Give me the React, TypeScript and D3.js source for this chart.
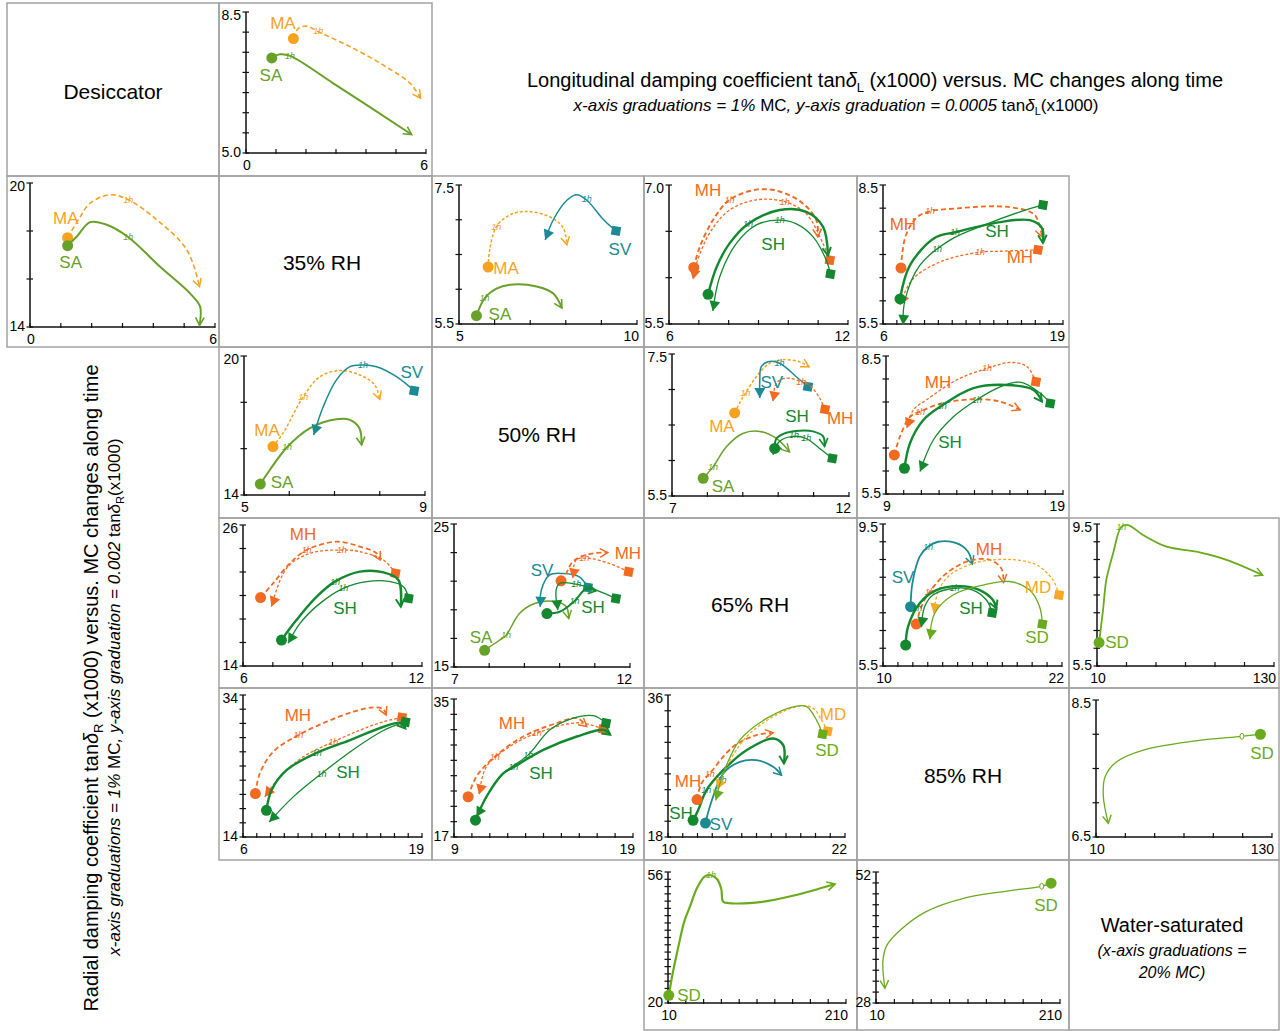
import React from 'react';
import * as d3 from 'd3';

type Pt = [number, number];
type Curve = { k: string; st: 'c' | 's'; w: number; d?: boolean; pts: Pt[]; h?: Pt; ho?: boolean };
type Lab = [string, number, number];

const COLORS: Record<string, string> = {
  MA: '#F7A21E', SA: '#68A12A', SV: '#1B8A93', MH: '#F26A22', SH: '#13882F', MD: '#F9A825', SD: '#6AAB1E',
};
const FONT = "'Liberation Sans Narrow','Arial Narrow','Liberation Sans',Arial,sans-serif";

// ---------- data (MC %, tan delta x1000) ----------
const desL: Curve[] = [
  { k: 'MA', st: 'c', w: 1.6, d: true, pts: [[1.58, 7.84], [1.74, 8.09], [2.02, 8.15], [2.41, 8.01], [3.47, 7.64], [4.58, 7.18], [5.47, 6.73], [5.82, 6.36]], h: [2.41, 8.02] },
  { k: 'SA', st: 'c', w: 2, pts: [[0.86, 7.36], [1.13, 7.45], [1.47, 7.41], [2.91, 6.73], [5.52, 5.46]], h: [1.47, 7.41] },
];
const desLLab: Lab[] = [['MA', 1.23, 8.23], ['SA', 0.83, 6.94]];

const desR: Curve[] = [
  { k: 'MA', st: 'c', w: 1.6, d: true, pts: [[1.22, 17.72], [1.57, 18.47], [1.95, 19.16], [2.6, 19.51], [3.19, 19.3], [4.11, 18.47], [5.09, 17.21], [5.5, 15.68]], h: [3.19, 19.3] },
  { k: 'SA', st: 'c', w: 2, pts: [[1.22, 17.39], [1.52, 17.77], [1.95, 18.37], [2.49, 18.26], [3.19, 17.74], [4.22, 16.51], [5.19, 15.4], [5.52, 14.84], [5.5, 14.07]], h: [3.19, 17.74] },
];
const desRLab: Lab[] = [['MA', 1.16, 18.53], ['SA', 1.32, 16.72]];

const l35_50: Curve[] = [
  { k: 'MA', st: 'c', w: 1.5, d: true, pts: [[5.82, 6.32], [5.86, 6.56], [6.05, 6.9], [6.43, 7.07], [6.9, 7.12], [7.56, 7.04], [7.93, 6.88], [8.03, 6.64]], h: [6.05, 6.9] },
  { k: 'SA', st: 'c', w: 2, pts: [[5.49, 5.62], [5.72, 5.87], [6.05, 6.01], [6.52, 6.07], [7.18, 6.04], [7.65, 5.94], [7.89, 5.73]], h: [5.72, 5.87] },
  { k: 'SV', st: 's', w: 1.5, pts: [[9.41, 6.84], [9.06, 7.0], [8.59, 7.28], [8.31, 7.36], [8.03, 7.28], [7.65, 7.0], [7.42, 6.71]], h: [8.59, 7.3] },
];
const l35_50Lab: Lab[] = [['MA', 6.32, 6.31], ['SA', 6.15, 5.64], ['SV', 9.52, 6.58]];

const l35_65: Curve[] = [
  { k: 'MH', st: 'c', w: 2, d: true, pts: [[6.83, 6.11], [7.03, 6.33], [7.47, 6.62], [8.03, 6.84], [8.93, 6.95], [9.71, 6.93], [10.49, 6.8], [10.94, 6.62], [10.99, 6.44]], h: [8.03, 6.84] },
  { k: 'MH', st: 's', w: 1.3, d: true, pts: [[11.39, 6.19], [11.16, 6.37], [10.6, 6.69], [9.88, 6.82], [8.93, 6.84], [8.03, 6.73], [7.36, 6.48], [6.92, 6.15], [6.8, 5.98]], h: [9.88, 6.82] },
  { k: 'SH', st: 'c', w: 2.4, pts: [[7.31, 5.82], [7.59, 6.11], [8.03, 6.37], [8.65, 6.58], [9.71, 6.73], [10.6, 6.71], [11.16, 6.55], [11.33, 6.24]], h: [8.65, 6.58] },
  { k: 'SH', st: 's', w: 1.3, pts: [[11.41, 6.04], [11.27, 6.19], [10.83, 6.44], [10.27, 6.58], [9.71, 6.62], [8.93, 6.57], [8.26, 6.37], [7.7, 6.01], [7.47, 5.64]], h: [9.71, 6.62] },
];
const l35_65Lab: Lab[] = [['MH', 7.31, 6.95], ['SH', 9.49, 6.36]];

const l35_85: Curve[] = [
  { k: 'MH', st: 'c', w: 1.8, d: true, pts: [[7.3, 6.71], [7.66, 7.42], [8.67, 7.85], [11.56, 8.0], [15.17, 8.02], [16.97, 7.85], [17.48, 7.38]], h: [9.4, 7.93] },
  { k: 'MH', st: 's', w: 1.3, d: true, pts: [[17.19, 7.1], [14.45, 7.07], [13.0, 7.05], [10.12, 6.84], [8.09, 6.45], [7.23, 5.91]], h: [13.0, 7.05] },
  { k: 'SH', st: 'c', w: 2.4, pts: [[7.23, 6.04], [7.95, 6.77], [9.75, 7.36], [11.2, 7.48], [14.45, 7.7], [16.61, 7.74], [17.48, 7.57], [17.55, 7.25]], h: [11.2, 7.48] },
  { k: 'SH', st: 's', w: 1.3, pts: [[17.55, 8.07], [15.89, 7.92], [13.36, 7.64], [10.84, 7.31], [8.67, 6.77], [7.59, 6.02], [7.44, 5.48]], h: [9.9, 7.12] },
];
const l35_85Lab: Lab[] = [['MH', 7.44, 7.66], ['SH', 14.23, 7.51], ['MH', 15.89, 6.95]];

const r35_50: Curve[] = [
  { k: 'MA', st: 'c', w: 1.5, d: true, pts: [[5.64, 16.09], [5.86, 16.66], [6.31, 18.24], [6.68, 19.11], [7.12, 19.37], [7.56, 19.18], [7.89, 18.75], [8.0, 18.13]], h: [6.31, 18.24] },
  { k: 'SA', st: 'c', w: 2, pts: [[5.36, 14.47], [5.57, 15.08], [5.95, 16.06], [6.45, 16.88], [7.04, 17.27], [7.34, 17.24], [7.55, 16.88], [7.6, 16.16]], h: [5.95, 16.06] },
  { k: 'SV', st: 's', w: 1.5, pts: [[8.76, 18.5], [8.37, 19.11], [7.93, 19.54], [7.63, 19.61], [7.34, 19.54], [7.04, 18.96], [6.75, 17.81], [6.54, 16.59]], h: [7.63, 19.61] },
];
const r35_50Lab: Lab[] = [['MA', 5.51, 16.81], ['SA', 5.84, 14.56], ['SV', 8.71, 19.31]];

const l50_65: Curve[] = [
  { k: 'MA', st: 'c', w: 1.5, d: true, pts: [[8.77, 6.67], [8.91, 6.81], [9.08, 6.95], [9.38, 7.18], [9.76, 7.37], [10.14, 7.42], [10.61, 7.39], [10.87, 7.32]], h: [9.08, 6.95] },
  { k: 'SV', st: 's', w: 1.5, pts: [[10.84, 7.04], [10.51, 7.18], [10.04, 7.37], [9.71, 7.39], [9.52, 7.32], [9.48, 7.13], [9.48, 6.88]], h: [10.04, 7.37] },
  { k: 'MH', st: 's', w: 1.3, d: true, pts: [[11.32, 6.72], [11.17, 6.88], [10.89, 7.06], [10.65, 7.11], [10.23, 7.16], [9.95, 7.09], [9.85, 6.83]], h: [10.65, 7.11] },
  { k: 'SA', st: 'c', w: 1.5, pts: [[7.88, 5.75], [8.16, 5.91], [8.53, 6.19], [9.0, 6.38], [9.48, 6.41], [9.95, 6.31], [10.32, 6.12]], h: [8.16, 5.91] },
  { k: 'SH', st: 'c', w: 2, pts: [[9.9, 6.17], [9.95, 6.31], [10.23, 6.39], [10.61, 6.42], [10.98, 6.41], [11.27, 6.34], [11.31, 6.2]], h: [10.45, 6.36] },
  { k: 'SH', st: 's', w: 1.3, pts: [[11.53, 6.03], [11.17, 6.17], [10.79, 6.31], [10.42, 6.34], [10.04, 6.27], [9.85, 6.08]], h: [10.79, 6.31] },
];
const l50_65Lab: Lab[] = [['MA', 8.41, 6.49], ['SV', 9.82, 7.11], ['SH', 10.53, 6.62], ['MH', 11.75, 6.6], ['SA', 8.44, 5.64]];

const l50_85: Curve[] = [
  { k: 'MH', st: 's', w: 1.3, d: true, pts: [[17.47, 7.94], [16.96, 8.27], [16.02, 8.36], [14.7, 8.23], [13.0, 7.98], [11.3, 7.55], [10.55, 7.33], [10.17, 6.93]], h: [14.7, 8.23] },
  { k: 'MH', st: 'c', w: 1.8, d: true, pts: [[9.47, 6.35], [9.79, 6.75], [10.36, 7.18], [10.92, 7.29], [12.06, 7.46], [13.94, 7.56], [15.45, 7.51], [16.58, 7.33]], h: [10.92, 7.29] },
  { k: 'SH', st: 'c', w: 2.4, pts: [[10.04, 6.06], [10.36, 6.61], [11.11, 7.11], [12.15, 7.42], [13.94, 7.8], [15.83, 7.87], [17.34, 7.76], [17.81, 7.51]], h: [12.15, 7.42] },
  { k: 'SH', st: 's', w: 1.3, pts: [[18.28, 7.47], [17.72, 7.69], [16.58, 7.93], [15.45, 7.83], [14.13, 7.55], [12.81, 7.18], [11.68, 6.68], [10.92, 5.99]], h: [14.13, 7.55] },
];
const l50_85Lab: Lab[] = [['MH', 11.94, 7.93], ['SH', 12.62, 6.63]];

const r35_65: Curve[] = [
  { k: 'MH', st: 'c', w: 1.8, d: true, pts: [[6.59, 19.82], [7.01, 21.04], [7.57, 22.74], [8.13, 23.87], [9.14, 24.58], [9.92, 24.16], [10.48, 23.59], [10.6, 23.02]], h: [8.13, 23.87] },
  { k: 'MH', st: 's', w: 1.3, d: true, pts: [[11.11, 21.89], [10.71, 23.02], [9.92, 23.73], [9.31, 23.87], [8.24, 23.59], [7.46, 22.31], [6.95, 19.05]], h: [9.31, 23.87] },
  { k: 'SH', st: 'c', w: 2.4, pts: [[7.29, 16.21], [7.79, 17.91], [8.47, 19.9], [9.08, 21.18], [9.92, 22.03], [10.71, 21.97], [11.21, 21.32], [11.29, 19.05]], h: [9.08, 21.18] },
  { k: 'SH', st: 's', w: 1.3, pts: [[11.55, 19.76], [11.38, 20.75], [10.93, 21.18], [10.15, 21.18], [9.36, 20.61], [8.58, 19.33], [7.91, 17.63], [7.51, 15.93]], h: [9.36, 20.61] },
];
const r35_65Lab: Lab[] = [['MH', 8.01, 25.23], ['SH', 9.42, 18.94]];

const r50_65: Curve[] = [
  { k: 'SA', st: 'c', w: 1.5, pts: [[7.87, 16.17], [8.29, 16.87], [8.48, 17.22], [8.86, 18.74], [9.29, 19.44], [9.9, 19.56], [10.19, 19.21], [10.26, 18.39]], h: [8.48, 17.22] },
  { k: 'SV', st: 's', w: 1.5, pts: [[10.8, 20.56], [10.56, 21.31], [10.09, 21.54], [9.71, 21.43], [9.48, 20.37], [9.45, 19.21]] },
  { k: 'MH', st: 'c', w: 1.8, d: true, pts: [[10.04, 21.03], [10.2, 21.6], [10.35, 22.3], [10.6, 22.7], [10.95, 22.95], [11.37, 23.0]], h: [10.7, 22.6] },
  { k: 'MH', st: 's', w: 1.3, d: true, pts: [[11.96, 21.66], [11.41, 22.24], [10.85, 22.59], [10.47, 22.48], [10.37, 21.19]] },
  { k: 'SH', st: 'c', w: 2, pts: [[9.64, 18.74], [10.0, 18.86], [10.42, 19.6], [10.75, 20.45], [11.04, 20.33]], h: [10.42, 19.6] },
  { k: 'SH', st: 's', w: 1.3, pts: [[11.6, 19.79], [11.04, 20.37], [10.47, 20.79], [10.0, 20.84], [9.9, 20.37], [9.95, 18.97]], h: [10.47, 20.79] },
];
const r50_65Lab: Lab[] = [['SV', 9.5, 21.78], ['MH', 11.94, 22.97], ['SH', 10.95, 19.2], ['SA', 7.77, 17.1]];

const l65_85: Curve[] = [
  { k: 'SV', st: 'c', w: 1.8, pts: [[11.85, 7.17], [11.97, 7.83], [12.46, 8.58], [13.02, 8.86], [13.69, 9.0], [14.92, 8.96], [15.7, 8.72], [15.99, 8.37]], h: [13.02, 8.86] },
  { k: 'MH', st: 'c', w: 1.8, d: true, pts: [[12.23, 6.68], [12.57, 7.17], [13.13, 7.59], [14.25, 8.11], [15.81, 8.47], [17.15, 8.49], [17.93, 8.25], [18.09, 7.85]], h: [13.13, 7.59] },
  { k: 'MD', st: 's', w: 1.3, d: true, pts: [[21.8, 7.5], [21.4, 7.92], [20.28, 8.35], [18.49, 8.5], [16.26, 8.41], [14.47, 8.06], [13.69, 7.59], [13.4, 6.98]] },
  { k: 'SH', st: 'c', w: 2.4, pts: [[11.52, 6.09], [11.68, 6.61], [12.46, 7.27], [13.58, 7.64], [15.14, 7.75], [16.48, 7.64], [17.37, 7.36], [17.6, 7.12]], h: [12.3, 7.12] },
  { k: 'SH', st: 's', w: 1.3, pts: [[17.33, 7.0], [16.93, 7.36], [16.03, 7.64], [14.8, 7.69], [13.35, 7.5], [12.79, 7.17], [12.57, 6.59]], h: [14.8, 7.69] },
  { k: 'SD', st: 's', w: 1.3, pts: [[20.68, 6.68], [20.5, 7.17], [19.83, 7.64], [18.49, 7.88], [16.7, 7.78], [14.69, 7.5], [13.46, 6.98], [13.13, 6.25]] },
];
const l65_85Lab: Lab[] = [['SV', 11.34, 8.01], ['MH', 17.11, 8.8], ['MD', 20.39, 7.73], ['SH', 15.9, 7.13], ['SD', 20.32, 6.32]];

const l65_ws: Curve[] = [
  { k: 'SD', st: 'c', w: 1.8, pts: [[11.4, 6.16], [14.1, 7.08], [16.3, 7.92], [20.9, 8.67], [26.5, 9.42], [31.1, 9.47], [41.2, 9.19], [57.1, 8.86], [77.5, 8.72], [97.8, 8.49], [122.3, 8.06]], h: [26.5, 9.42] },
];
const l65_wsLab: Lab[] = [['SD', 23.6, 6.18]];

const r35_85: Curve[] = [
  { k: 'MH', st: 'c', w: 1.8, d: true, pts: [[6.9, 20.12], [7.22, 22.94], [8.19, 26.0], [10.01, 28.35], [12.08, 30.24], [14.02, 31.65], [15.48, 32.26], [16.21, 31.98], [16.4, 31.18]], h: [10.01, 28.35] },
  { k: 'MH', st: 's', w: 1.3, d: true, pts: [[17.54, 30.85], [16.21, 30.24], [14.51, 29.06], [12.56, 27.41], [10.37, 25.29], [8.67, 22.47], [7.58, 19.65]], h: [12.56, 27.41] },
  { k: 'SH', st: 'c', w: 2.4, pts: [[7.7, 17.76], [8.07, 20.59], [9.16, 23.41], [11.35, 25.86], [13.78, 27.65], [16.21, 29.53], [17.42, 30.09], [17.79, 29.29]], h: [11.35, 25.86] },
  { k: 'SH', st: 's', w: 1.3, pts: [[17.79, 30.2], [16.2, 29.0], [14.0, 26.3], [11.71, 22.94], [9.65, 19.65], [7.9, 16.12]], h: [11.71, 22.94] },
];
const r35_85Lab: Lab[] = [['MH', 9.99, 31.18], ['SH', 13.63, 23.15]];

const r50_85: Curve[] = [
  { k: 'MH', st: 'c', w: 1.8, d: true, pts: [[9.79, 22.25], [10.25, 24.87], [11.28, 27.49], [12.87, 30.11], [14.74, 31.86], [15.86, 32.51], [16.42, 31.42]], h: [11.28, 27.49] },
  { k: 'MH', st: 's', w: 1.3, d: true, pts: [[17.32, 31.07], [16.0, 31.9], [13.62, 30.55], [12.12, 28.8], [10.81, 26.18], [10.4, 22.55]], h: [13.62, 30.55] },
  { k: 'SH', st: 'c', w: 2.4, pts: [[10.2, 19.19], [10.81, 22.25], [11.75, 25.31], [12.31, 26.09], [13.99, 28.36], [15.86, 30.11], [17.36, 30.98], [17.73, 30.33]], h: [12.31, 26.09] },
  { k: 'SH', st: 's', w: 1.3, pts: [[17.49, 31.86], [16.79, 32.82], [15.67, 32.51], [14.36, 30.98], [13.15, 27.71], [11.56, 24.87], [10.25, 19.63]], h: [13.15, 27.71] },
];
const r50_85Lab: Lab[] = [['MH', 12.24, 31.87], ['SH', 13.86, 25.35]];

const r65_85: Curve[] = [
  { k: 'SH', st: 'c', w: 2.4, pts: [[11.7, 20.11], [12.04, 21.38], [12.6, 23.92], [13.74, 26.47], [15.32, 29.0], [17.13, 30.49], [17.81, 29.64], [17.86, 27.31]], h: [12.6, 23.92] },
  { k: 'SV', st: 'c', w: 1.8, pts: [[12.54, 19.77], [12.83, 21.81], [13.74, 26.04], [14.87, 27.53], [16.0, 27.74], [17.13, 26.89], [17.7, 25.83]], h: [13.62, 25.2] },
  { k: 'MH', st: 'c', w: 1.8, d: true, pts: [[11.97, 22.74], [12.26, 24.77], [12.83, 26.04], [14.41, 29.43], [16.0, 30.92], [17.13, 31.21]], h: [12.83, 26.04] },
  { k: 'MD', st: 's', w: 1.3, d: true, pts: [[20.82, 31.42], [20.41, 32.82], [19.85, 34.31], [18.94, 34.6], [17.13, 33.25], [15.32, 30.7], [13.96, 26.89], [13.33, 24.01]] },
  { k: 'SD', st: 's', w: 1.3, pts: [[20.48, 31.04], [20.07, 32.82], [19.4, 34.52], [18.72, 34.6], [16.68, 33.03], [14.87, 30.28], [13.74, 26.04], [13.24, 22.65]] },
];
const r65_85Lab: Lab[] = [['MD', 21.19, 33.59], ['SD', 20.78, 29.03], ['MH', 11.36, 25.1], ['SH', 10.88, 21.04], ['SV', 13.59, 19.65]];

const l85_ws: Curve[] = [
  { k: 'SD', st: 'c', w: 1.3, pts: [[122.1, 8.0], [109.5, 7.97], [76.5, 7.9], [42.3, 7.77], [24.1, 7.6], [16.2, 7.38], [15.0, 7.09], [18.4, 6.7]], h: [109.5, 7.97], ho: true },
];
const l85_wsLab: Lab[] = [['SD', 123.2, 7.73]];

const r65_ws: Curve[] = [
  { k: 'SD', st: 'c', w: 2.2, pts: [[10.9, 22.1], [14.6, 27.3], [21.5, 35.3], [28.4, 42.5], [35.3, 46.9], [42.2, 51.4], [51.4, 54.8], [58.3, 55.1], [65.2, 54.0], [69.8, 51.4], [72.1, 47.8], [81.3, 47.4], [115.7, 47.8], [152.5, 49.6], [197.6, 52.7]], h: [58.3, 55.1] },
];
const r65_wsLab: Lab[] = [['SD', 33.6, 22.2]];

const r85_ws: Curve[] = [
  { k: 'SD', st: 'c', w: 1.3, pts: [[200.3, 49.96], [190.1, 49.38], [152.5, 48.5], [108.2, 47.3], [64, 44.7], [37.4, 41.5], [21.9, 38.6], [17.5, 35.7], [19.7, 30.7]], h: [190.1, 49.38], ho: true },
];
const r85_wsLab: Lab[] = [['SD', 194.8, 45.95]];

// ---------- layout ----------
const COLS = [7, 219, 432, 644, 857, 1069, 1279];
const ROWS = [3, 176, 347, 518, 688, 860, 1030];
const CELLS: [number, number][] = [
  [0, 0], [0, 1],
  [1, 0], [1, 1], [1, 2], [1, 3], [1, 4],
  [2, 1], [2, 2], [2, 3], [2, 4],
  [3, 1], [3, 2], [3, 3], [3, 4], [3, 5],
  [4, 1], [4, 2], [4, 3], [4, 4], [4, 5],
  [5, 3], [5, 4], [5, 5],
];

type Panel = { box: number[]; xd: number[]; xs: number; yd: number[]; ys: number; yl: string[]; xl: string[]; c: Curve[]; lab: Lab[] };
const PANELS: Panel[] = [
  { box: [246, 12, 426, 153], xd: [0, 6], xs: 1, yd: [5, 8.5], ys: 0.5, yl: ['5.0', '8.5'], xl: ['0', '6'], c: desL, lab: desLLab },
  { box: [30, 183, 215, 327], xd: [0, 6], xs: 1, yd: [14, 20], ys: 2, yl: ['14', '20'], xl: ['0', '6'], c: desR, lab: desRLab },
  { box: [459, 185, 637, 324], xd: [5, 10], xs: 1, yd: [5.5, 7.5], ys: 0.5, yl: ['5.5', '7.5'], xl: ['5', '10'], c: l35_50, lab: l35_50Lab },
  { box: [669, 185, 848, 324], xd: [6, 12], xs: 1, yd: [5.5, 7.0], ys: 0.5, yl: ['5.5', '7.0'], xl: ['6', '12'], c: l35_65, lab: l35_65Lab },
  { box: [883, 185, 1063, 324], xd: [6, 19], xs: 1, yd: [5.5, 8.5], ys: 0.5, yl: ['5.5', '8.5'], xl: ['6', '19'], c: l35_85, lab: l35_85Lab },
  { box: [244, 356, 425, 495], xd: [5, 9], xs: 1, yd: [14, 20], ys: 2, yl: ['14', '20'], xl: ['5', '9'], c: r35_50, lab: r35_50Lab },
  { box: [672, 354, 849, 496], xd: [7, 12], xs: 1, yd: [5.5, 7.5], ys: 0.5, yl: ['5.5', '7.5'], xl: ['7', '12'], c: l50_65, lab: l50_65Lab },
  { box: [886, 356, 1063, 494], xd: [9, 19], xs: 1, yd: [5.5, 8.5], ys: 0.5, yl: ['5.5', '8.5'], xl: ['9', '19'], c: l50_85, lab: l50_85Lab },
  { box: [243, 525, 422, 666], xd: [6, 12], xs: 1, yd: [14, 26], ys: 2, yl: ['14', '26'], xl: ['6', '12'], c: r35_65, lab: r35_65Lab },
  { box: [454, 524, 630, 667], xd: [7, 12], xs: 1, yd: [15, 25], ys: 2, yl: ['15', '25'], xl: ['7', '12'], c: r50_65, lab: r50_65Lab },
  { box: [883, 524, 1062, 666], xd: [10, 22], xs: 1, yd: [5.5, 9.5], ys: 0.5, yl: ['5.5', '9.5'], xl: ['10', '22'], c: l65_85, lab: l65_85Lab },
  { box: [1097, 524, 1274, 666], xd: [10, 130], xs: 20, yd: [5.5, 9.5], ys: 0.5, yl: ['5.5', '9.5'], xl: ['10', '130'], c: l65_ws, lab: l65_wsLab },
  { box: [243, 695, 422, 837], xd: [6, 19], xs: 1, yd: [14, 34], ys: 2, yl: ['14', '34'], xl: ['6', '19'], c: r35_85, lab: r35_85Lab },
  { box: [454, 699, 633, 837], xd: [9, 19], xs: 1, yd: [17, 35], ys: 2, yl: ['17', '35'], xl: ['9', '19'], c: r50_85, lab: r50_85Lab },
  { box: [668, 695, 845, 837], xd: [10, 22], xs: 1, yd: [18, 36], ys: 2, yl: ['18', '36'], xl: ['10', '22'], c: r65_85, lab: r65_85Lab },
  { box: [1096, 700, 1272, 837], xd: [10, 130], xs: 20, yd: [6.5, 8.5], ys: 0.5, yl: ['6.5', '8.5'], xl: ['10', '130'], c: l85_ws, lab: l85_wsLab },
  { box: [668, 872, 846, 1003], xd: [10, 210], xs: 20, yd: [20, 56], ys: 2, yl: ['20', '56'], xl: ['10', '210'], c: r65_ws, lab: r65_wsLab },
  { box: [876, 872, 1060, 1003], xd: [10, 210], xs: 20, yd: [28, 52], ys: 2, yl: ['28', '52'], xl: ['10', '210'], c: r85_ws, lab: r85_wsLab },
];

function CurveView({ cv, x, y }: { cv: Curve; x: any; y: any }) {
  const col = COLORS[cv.k];
  const line = d3.line<Pt>().x((d) => x(d[0])).y((d) => y(d[1])).curve(d3.curveCatmullRom.alpha(0.5));
  const n = cv.pts.length;
  const x1 = x(cv.pts[n - 2][0]), y1 = y(cv.pts[n - 2][1]);
  const x2 = x(cv.pts[n - 1][0]), y2 = y(cv.pts[n - 1][1]);
  const a = Math.atan2(y2 - y1, x2 - x1);
  const sx = x(cv.pts[0][0]), sy = y(cv.pts[0][1]);
  let head: React.ReactNode;
  if (cv.st === 's') {
    const L = 10, W = 5.5;
    const bx = x2 - L * Math.cos(a), by = y2 - L * Math.sin(a);
    const p = [
      [x2, y2],
      [bx + W * Math.sin(a), by - W * Math.cos(a)],
      [bx - W * Math.sin(a), by + W * Math.cos(a)],
    ];
    head = <polygon points={p.map((q) => q.join(',')).join(' ')} fill={col} />;
  } else {
    const L = 9, s = 0.5;
    head = (
      <path
        d={`M${x2 - L * Math.cos(a - s)},${y2 - L * Math.sin(a - s)}L${x2},${y2}L${x2 - L * Math.cos(a + s)},${y2 - L * Math.sin(a + s)}`}
        fill="none" stroke={col} strokeWidth={Math.max(1.4, cv.w * 0.8)} strokeLinejoin="miter"
      />
    );
  }
  return (
    <g>
      <path d={line(cv.pts) || ''} fill="none" stroke={col} strokeWidth={cv.w}
        strokeDasharray={cv.d ? (cv.w > 1.5 ? '5,3' : '3,2') : undefined} strokeLinecap="butt" />
      {head}
      {cv.st === 'c'
        ? <circle cx={sx} cy={sy} r={5.5} fill={col} />
        : <rect x={sx - 4.5} y={sy - 4.5} width={9} height={9} fill={col} transform={`rotate(10,${sx},${sy})`} />}
      {cv.h && (cv.ho
        ? <ellipse cx={x(cv.h[0])} cy={y(cv.h[1])} rx={2} ry={3} fill="#fff" stroke={col} strokeWidth={1} />
        : <text x={x(cv.h[0])} y={y(cv.h[1]) + 3} fontSize={9} fontStyle="italic" textAnchor="middle" fill={col} fontFamily={FONT}>1h</text>
      )}
    </g>
  );
}

function PanelView({ p }: { p: Panel }) {
  const [l, t, r, b] = p.box;
  const x = d3.scaleLinear().domain(p.xd).range([l, r]);
  const y = d3.scaleLinear().domain(p.yd).range([b, t]);
  const xt = d3.range(p.xd[0], p.xd[1] + p.xs / 2, p.xs);
  const yt = d3.range(p.yd[0], p.yd[1] + p.ys / 2, p.ys);
  return (
    <g>
      <line x1={l} x2={r} y1={b} y2={b} stroke="#111" strokeWidth={1.5} />
      <line x1={l} x2={l} y1={t} y2={b} stroke="#111" strokeWidth={1.5} />
      {xt.map((v, i) => <line key={'x' + i} x1={x(v)} x2={x(v)} y1={b - 4} y2={b + 1} stroke="#111" strokeWidth={1.2} />)}
      {yt.map((v, i) => <line key={'y' + i} x1={l - 3.5} x2={l + 3} y1={y(v)} y2={y(v)} stroke="#111" strokeWidth={1.2} />)}
      <text x={l - 5} y={t + 8} fontSize={14} textAnchor="end" fontFamily={FONT}>{p.yl[1]}</text>
      <text x={l - 5} y={b + 4} fontSize={14} textAnchor="end" fontFamily={FONT}>{p.yl[0]}</text>
      <text x={l + 1} y={b + 17} fontSize={14} textAnchor="middle" fontFamily={FONT}>{p.xl[0]}</text>
      <text x={r + 2} y={b + 17} fontSize={14} textAnchor="end" fontFamily={FONT}>{p.xl[1]}</text>
      {p.c.map((cv, i) => <CurveView key={i} cv={cv} x={x} y={y} />)}
      {p.lab.map((lb, i) => (
        <text key={'l' + i} x={x(lb[1])} y={y(lb[2]) + 6} fontSize={17} textAnchor="middle" fill={COLORS[lb[0]]} fontFamily={FONT}>{lb[0]}</text>
      ))}
    </g>
  );
}

const DIAG: [string, number, number][] = [
  ['Desiccator', 113, 99], ['35% RH', 322, 270], ['50% RH', 537, 442], ['65% RH', 750, 612], ['85% RH', 963, 783],
];

export default function App() {
  return (
    <svg width={1280} height={1031} style={{ position: 'absolute', left: 0, top: 0, background: '#fff' }} fontFamily={FONT}>
      <rect width={1280} height={1031} fill="#fff" />
      {CELLS.map(([r, c], i) => (
        <rect key={i} x={COLS[c]} y={ROWS[r]} width={COLS[c + 1] - COLS[c]} height={ROWS[r + 1] - ROWS[r]} fill="none" stroke="#a3a3a3" strokeWidth={1.5} />
      ))}
      {PANELS.map((p, i) => <PanelView key={i} p={p} />)}
      {DIAG.map(([s, cx, cy], i) => (
        <text key={i} x={cx} y={cy} fontSize={21} textAnchor="middle">{s}</text>
      ))}
      <text x={1172} y={932} fontSize={20} textAnchor="middle">Water-saturated</text>
      <text x={1172} y={956} fontSize={16} fontStyle="italic" textAnchor="middle">(x-axis graduations =</text>
      <text x={1172} y={978} fontSize={16} fontStyle="italic" textAnchor="middle">20% MC)</text>
      <text x={875} y={87} fontSize={20} textAnchor="middle">
        Longitudinal damping coefficient tan<tspan fontStyle="italic">δ</tspan><tspan fontSize={13} dy={5}>L</tspan><tspan dy={-5}> (x1000)  versus. MC changes along time</tspan>
      </text>
      <text x={836} y={111} fontSize={17} fontStyle="italic" textAnchor="middle">
        x-axis graduations = 1% <tspan fontStyle="normal">MC</tspan>, y-axis graduation = 0.0005 <tspan fontStyle="normal">tan</tspan>δ<tspan fontSize={11} dy={4} fontStyle="normal">L</tspan><tspan dy={-4} fontStyle="normal">(x1000)</tspan>
      </text>
      <text transform="translate(98,688) rotate(-90)" fontSize={20} textAnchor="middle">
        Radial damping coefficient tan<tspan fontStyle="italic">δ</tspan><tspan fontSize={13} dy={5}>R</tspan><tspan dy={-5}> (x1000)  versus. MC changes along time</tspan>
      </text>
      <text transform="translate(120,697) rotate(-90)" fontSize={17} fontStyle="italic" textAnchor="middle">
        x-axis graduations = 1% <tspan fontStyle="normal">MC</tspan>, y-axis graduation = 0.002 <tspan fontStyle="normal">tan</tspan>δ<tspan fontSize={11} dy={4} fontStyle="normal">R</tspan><tspan dy={-4} fontStyle="normal">(x1000)</tspan>
      </text>
    </svg>
  );
}
